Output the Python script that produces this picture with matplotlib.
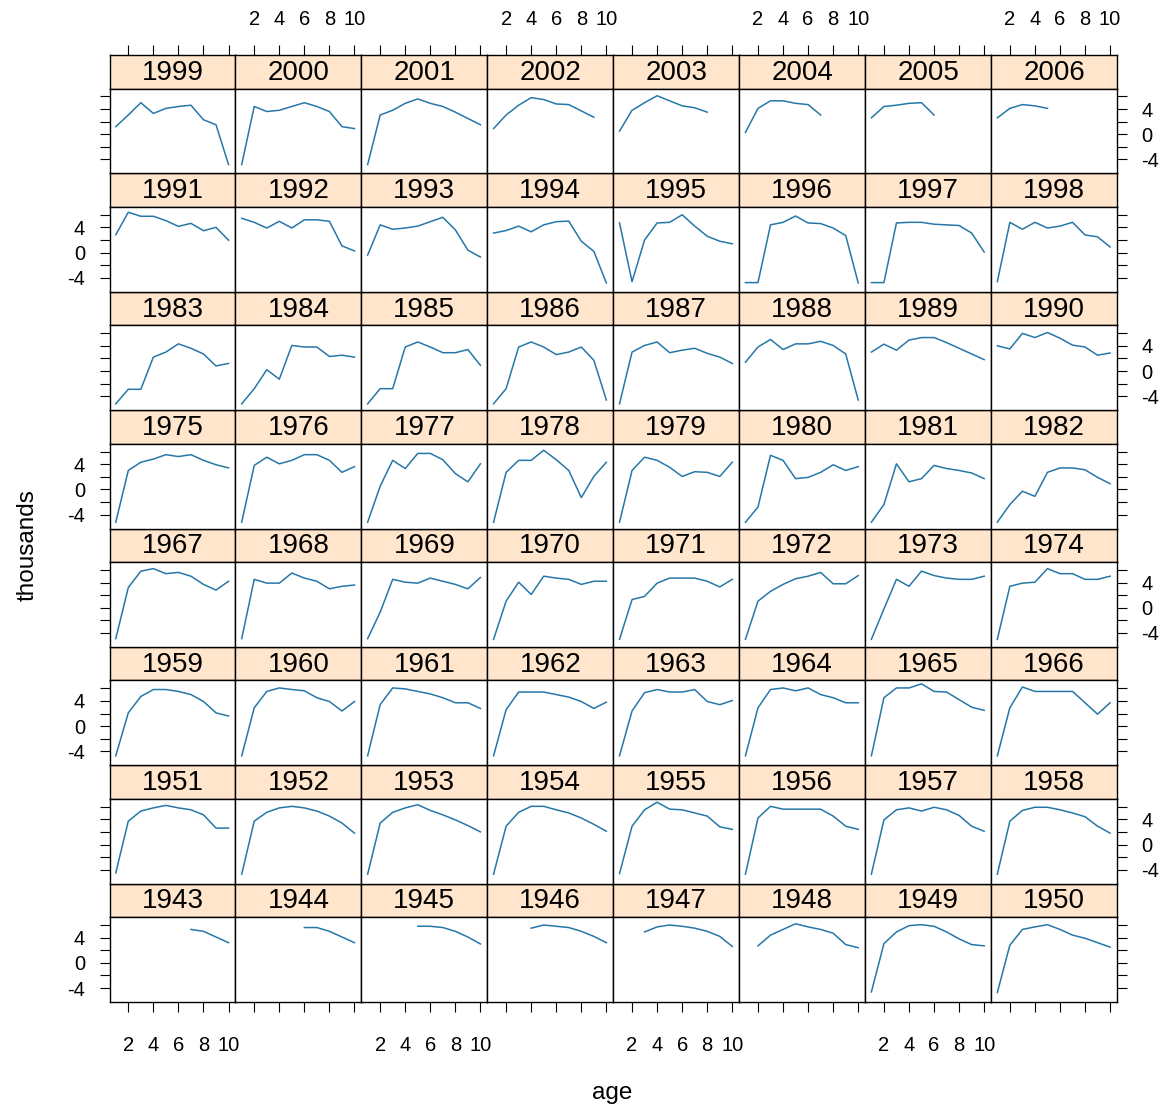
import matplotlib
matplotlib.use("Agg")
import matplotlib.pyplot as plt
import numpy as np

plt.rcParams['font.family'] = ['Liberation Sans Narrow', 'Liberation Sans', 'DejaVu Sans']
plt.rcParams['axes.unicode_minus'] = False

ages = [1, 2, 3, 4, 5, 6, 7, 8, 9, 10]
x_ticks = [2, 4, 6, 8, 10]
y_ticks = [-4, -2, 0, 2, 4, 6]
y_tick_labels = ['-4', '', '0', '', '4', '']
x_label = "age"
y_label = "thousands"

# values by cohort year (None = not observed)
v1943 = [None, None, None, None, None, None, 5.3, 5.0, 4.1, 3.2]
v1944 = [None, None, None, None, None, 5.6, 5.6, 5.0, 4.1, 3.2]
v1945 = [None, None, None, None, 5.8, 5.8, 5.6, 5.0, 4.1, 3.0]
v1946 = [None, None, None, 5.5, 6.0, 5.8, 5.6, 5.0, 4.2, 3.2]
v1947 = [None, None, 4.9, 5.7, 6.0, 5.8, 5.5, 5.0, 4.2, 2.6]
v1948 = [None, 2.7, 4.4, 5.3, 6.2, 5.7, 5.3, 4.7, 2.9, 2.4]
v1949 = [-4.6, 3.05, 4.9, 5.9, 6.05, 5.8, 4.9, 3.8, 2.9, 2.7]
v1950 = [-4.7, 2.8, 5.3, 5.7, 6.05, 5.3, 4.4, 3.9, 3.2, 2.5]
v1951 = [-4.5, 3.7, 5.3, 5.8, 6.2, 5.8, 5.5, 4.7, 2.6, 2.6]
v1952 = [-4.7, 3.7, 5.1, 5.8, 6.05, 5.8, 5.3, 4.5, 3.4, 1.8]
v1953 = [-4.7, 3.4, 5.1, 5.8, 6.3, 5.4, 4.7, 3.9, 3.0, 2.0]
v1954 = [-4.7, 2.9, 5.1, 6.05, 6.05, 5.5, 5.0, 4.2, 3.2, 2.1]
v1955 = [-4.6, 2.9, 5.5, 6.7, 5.6, 5.5, 5.0, 4.5, 2.8, 2.4]
v1956 = [-4.7, 4.2, 6.05, 5.6, 5.6, 5.6, 5.6, 4.5, 2.9, 2.4]
v1957 = [-4.7, 3.9, 5.5, 5.8, 5.3, 5.9, 5.5, 4.6, 2.9, 2.1]
v1958 = [-4.7, 3.7, 5.4, 5.9, 5.9, 5.5, 5.0, 4.4, 2.9, 1.8]
v1959 = [-4.7, 2.1, 4.7, 5.8, 5.8, 5.5, 5.0, 3.9, 2.1, 1.6]
v1960 = [-4.7, 2.9, 5.5, 6.05, 5.8, 5.6, 4.5, 3.9, 2.4, 3.9]
v1961 = [-4.7, 3.4, 6.05, 5.9, 5.5, 5.1, 4.5, 3.7, 3.7, 2.8]
v1962 = [-4.7, 2.6, 5.4, 5.4, 5.4, 5.0, 4.6, 3.9, 2.8, 3.8]
v1963 = [-4.7, 2.4, 5.3, 5.8, 5.4, 5.4, 5.8, 3.9, 3.4, 4.05]
v1964 = [-4.7, 2.9, 5.8, 6.05, 5.6, 6.05, 5.0, 4.5, 3.7, 3.7]
v1965 = [-4.7, 4.5, 6.05, 6.05, 6.7, 5.5, 5.4, 4.2, 3.0, 2.5]
v1966 = [-4.7, 2.9, 6.2, 5.5, 5.5, 5.5, 5.5, 3.7, 1.9, 3.7]
v1967 = [-4.9, 3.2, 5.8, 6.2, 5.4, 5.6, 5.0, 3.7, 2.8, 4.2]
v1968 = [-4.9, 4.5, 3.9, 3.9, 5.5, 4.7, 4.2, 3.0, 3.4, 3.6]
v1969 = [-4.9, -0.7, 4.5, 4.05, 3.9, 4.7, 4.2, 3.7, 3.0, 4.8]
v1970 = [-5.0, 1.05, 4.05, 2.1, 5.0, 4.7, 4.5, 3.7, 4.2, 4.2]
v1971 = [-5.0, 1.3, 1.8, 3.9, 4.7, 4.7, 4.7, 4.2, 3.3, 4.5]
v1972 = [-5.0, 1.05, 2.6, 3.7, 4.6, 5.0, 5.6, 3.8, 3.8, 5.1]
v1973 = [-5.0, -0.2, 4.5, 3.4, 5.8, 5.1, 4.7, 4.5, 4.5, 5.0]
v1974 = [-5.0, 3.4, 3.9, 4.05, 6.2, 5.4, 5.4, 4.5, 4.5, 5.0]
v1975 = [-5.2, 3.0, 4.3, 4.8, 5.5, 5.2, 5.5, 4.6, 3.9, 3.4]
v1976 = [-5.2, 3.8, 5.1, 4.05, 4.6, 5.5, 5.5, 4.6, 2.7, 3.6]
v1977 = [-5.2, 0.5, 4.6, 3.3, 5.7, 5.7, 4.7, 2.5, 1.2, 4.05]
v1978 = [-5.2, 2.7, 4.6, 4.6, 6.2, 4.7, 3.0, -1.3, 2.05, 4.3]
v1979 = [-5.2, 3.0, 5.1, 4.6, 3.5, 2.05, 2.8, 2.7, 2.05, 4.3]
v1980 = [-5.2, -2.8, 5.4, 4.6, 1.7, 1.9, 2.7, 3.9, 3.0, 3.6]
v1981 = [-5.2, -2.4, 4.05, 1.2, 1.7, 3.8, 3.3, 3.0, 2.6, 1.7]
v1982 = [-5.2, -2.4, -0.3, -1.1, 2.7, 3.4, 3.4, 3.1, 1.9, 0.9]
v1983 = [-5.2, -2.9, -2.9, 2.2, 3.0, 4.3, 3.6, 2.7, 0.8, 1.2]
v1984 = [-5.2, -2.8, 0.2, -1.3, 4.05, 3.8, 3.8, 2.3, 2.5, 2.2]
v1985 = [-5.2, -2.8, -2.8, 3.8, 4.6, 3.8, 2.9, 2.9, 3.4, 0.9]
v1986 = [-5.2, -2.8, 3.8, 4.6, 3.8, 2.6, 3.0, 3.8, 1.7, -4.6]
v1987 = [-5.2, 3.0, 4.05, 4.6, 2.9, 3.3, 3.6, 2.8, 2.2, 1.2]
v1988 = [1.4, 3.8, 5.0, 3.4, 4.3, 4.3, 4.7, 4.05, 2.7, -4.6]
v1989 = [3.0, 4.25, 3.3, 4.9, 5.3, 5.3, 4.5, 3.6, 2.7, 1.8]
v1990 = [4.0, 3.5, 5.96, 5.3, 6.1, 5.2, 4.1, 3.8, 2.5, 2.85]
v1991 = [2.83, 6.4, 5.76, 5.76, 5.07, 4.16, 4.64, 3.47, 4.0, 1.97]
v1992 = [5.44, 4.8, 3.9, 4.96, 3.9, 5.2, 5.2, 4.96, 1.07, 0.27]
v1993 = [-0.4, 4.4, 3.7, 3.9, 4.2, 4.9, 5.6, 3.6, 0.4, -0.7]
v1994 = [3.1, 3.5, 4.2, 3.3, 4.4, 4.9, 5.0, 1.8, 0.2, -4.8]
v1995 = [4.7, -4.6, 2.0, 4.7, 4.8, 6.0, 4.2, 2.6, 1.8, 1.4]
v1996 = [-4.75, -4.75, 4.4, 4.8, 5.8, 4.7, 4.6, 3.9, 2.7, -4.8]
v1997 = [-4.75, -4.75, 4.7, 4.8, 4.8, 4.5, 4.4, 4.3, 3.1, 0.1]
v1998 = [-4.6, 4.8, 3.7, 4.8, 3.9, 4.2, 4.8, 2.8, 2.5, 0.9]
v1999 = [1.2, 3.05, 5.0, 3.3, 4.1, 4.4, 4.6, 2.3, 1.5, -4.8]
v2000 = [-4.8, 4.4, 3.6, 3.8, 4.4, 5.0, 4.4, 3.6, 1.2, 0.9]
v2001 = [-4.8, 3.05, 3.8, 4.9, 5.6, 4.9, 4.4, 3.5, 2.5, 1.5]
v2002 = [0.9, 3.05, 4.6, 5.8, 5.5, 4.8, 4.7, 3.7, 2.7, None]
v2003 = [0.5, 3.8, 5.0, 6.1, 5.3, 4.5, 4.2, 3.5, None, None]
v2004 = [0.3, 4.1, 5.3, 5.3, 4.9, 4.7, 3.05, None, None, None]
v2005 = [2.6, 4.4, 4.6, 4.9, 5.0, 3.05, None, None, None, None]
v2006 = [2.6, 4.1, 4.7, 4.5, 4.1, None, None, None, None, None]

years = list(range(1943, 2007))
series = {y: globals()['v%d' % y] for y in years}

# ---- layout (pixels) ----
W, H = 1171, 1115
DPI = 100
grid_left, grid_right = 109.5, 1117.0
grid_top, grid_bottom = 55.0, 1002.0
ncol, nrow = 8, 8
col_w = (grid_right - grid_left) / ncol
row_h = (grid_bottom - grid_top) / nrow
strip_h = 33.5

line_col = '#2677a8'
strip_col = '#ffe5cc'
xlim = (0.5, 10.55)
ylim = (-6.2, 7.25)
tick_len = 7.5
tick_fs = 14.5

fig = plt.figure(figsize=(W / DPI, H / DPI), dpi=DPI)
fig.patch.set_facecolor('white')


def rect(x0, y0, w, h):
    return [x0 / W, 1 - (y0 + h) / H, w / W, h / H]


for i, yr in enumerate(years):
    r = nrow - 1 - i // ncol   # row from top
    c = i % ncol
    x0 = grid_left + c * col_w
    y0 = grid_top + r * row_h

    # strip
    sax = fig.add_axes(rect(x0, y0, col_w, strip_h))
    sax.set_facecolor(strip_col)
    sax.set_xlim(*xlim)
    sax.set_ylim(0, 1)
    sax.text(0.5, 0.47, str(yr), transform=sax.transAxes, ha='center',
             va='center', fontsize=20, color='black')
    for sp in sax.spines.values():
        sp.set_linewidth(1.0)
    sax.set_yticks([])
    if r == 0:
        sax.xaxis.tick_top()
        sax.set_xticks(x_ticks)
        sax.set_xticklabels([str(t) for t in x_ticks] if c % 2 == 1 else [''] * 5)
        sax.tick_params(axis='x', direction='out', length=tick_len, width=0.8,
                        labelsize=tick_fs, pad=11)
    else:
        sax.set_xticks([])

    # panel
    ax = fig.add_axes(rect(x0, y0 + strip_h, col_w, row_h - strip_h))
    vals = np.array(series[yr], dtype=float)
    ax.plot(ages, vals, color=line_col, lw=1.1)
    ax.set_xlim(*xlim)
    ax.set_ylim(*ylim)
    for sp in ax.spines.values():
        sp.set_linewidth(1.0)

    if r == nrow - 1:
        ax.set_xticks(x_ticks)
        ax.set_xticklabels([str(t) for t in x_ticks] if c % 2 == 0 else [''] * 5)
        ax.tick_params(axis='x', direction='out', length=tick_len, width=0.8,
                       labelsize=tick_fs, pad=17)
    else:
        ax.set_xticks([])

    if c == 0 or c == ncol - 1:
        ax.set_yticks(y_ticks)
        ax.set_yticklabels(y_tick_labels)
        show = (r % 2 == 1) if c == 0 else (r % 2 == 0)
        ax.tick_params(axis='y', direction='out', length=tick_len, width=0.8,
                       labelsize=tick_fs, pad=10,
                       left=(c == 0), right=(c == ncol - 1),
                       labelleft=(c == 0 and show),
                       labelright=(c == ncol - 1 and show))
    else:
        ax.set_yticks([])

fig.text(28 / W, 1 - 545 / H, y_label, rotation=90, ha='center', va='center',
         fontsize=17.5)
fig.text(612 / W, 1 - 1093 / H, x_label, ha='center', va='center', fontsize=17.5)

fig.savefig('out.png', dpi=DPI)
